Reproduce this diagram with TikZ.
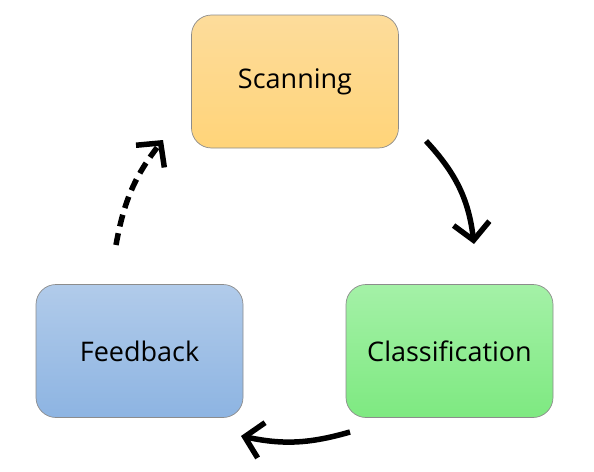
\documentclass[tikz,border=0pt]{standalone}
\usepackage{fontspec}
\setmainfont{Open Sans}
\usetikzlibrary{arrows.meta}
\definecolor{scantop}{HTML}{FDDC9B}
\definecolor{scanbot}{HTML}{FFD479}
\definecolor{feedtop}{HTML}{B1CBEA}
\definecolor{feedbot}{HTML}{8DB4E2}
\definecolor{classtop}{HTML}{A4F1A7}
\definecolor{classbot}{HTML}{7EE981}
\tikzset{
  stage/.style={draw=black!45, line width=0.7pt, rounded corners=20pt,
    minimum width=207pt, minimum height=133pt, font=\fontsize{27}{32}\selectfont},
  cyc/.style={line width=5.5pt, -{Straight Barb[length=17pt,width=36pt]}}
}
\begin{document}
\begin{tikzpicture}[x=1pt, y=-1pt]
	\useasboundingbox (0,0) rectangle (594,471);
	\node[stage, top color=scantop, bottom color=scanbot] (scan) at (295,81.5) {Scanning};
	\node[stage, top color=classtop, bottom color=classbot] (classify) at (449.5,351) {Classification};
	\node[stage, top color=feedtop, bottom color=feedbot] (feedback) at (139.5,351) {Feedback};
	\coordinate (c1) at (426,141);
	\coordinate (c2) at (474,244);
	\coordinate (c3) at (350,432);
	\coordinate (c4) at (241,436);
	\coordinate (c5) at (116,245);
	\coordinate (c6) at (163,140);
	\draw[cyc] (c1) to[bend left=18] (c2);
	\draw[cyc] (c3) to[bend left=14] (c4);
	\draw[cyc, dash pattern=on 12pt off 7pt] (c5) to[bend left=14] (c6);
\end{tikzpicture}
\end{document}
